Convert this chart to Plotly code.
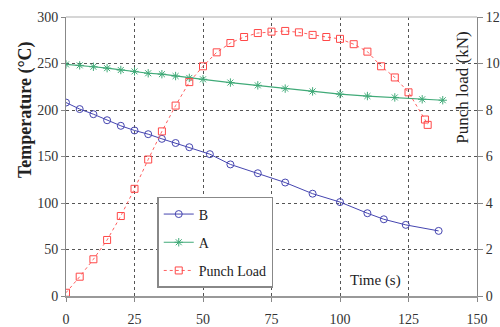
import plotly.graph_objects as go

time_b = [0, 5, 10, 15, 20, 25, 30, 35, 40, 45, 52.5, 60, 70, 80, 90, 100, 110, 116, 124, 136]
temp_b = [208, 201, 195.5, 189, 183, 178, 174, 169, 164.5, 160, 152.5, 141.5, 132, 122, 110, 101, 89, 82.5, 76.5, 70]

time_a = [0, 5, 10, 15, 20, 25, 30, 35, 40, 45, 50, 60, 70, 80, 90, 100, 110, 120, 130, 137.5]
temp_a = [249, 248, 246.5, 245, 243, 241.5, 239.5, 238.5, 236.5, 234.5, 233, 229.5, 226.5, 223, 220, 217, 215, 213.5, 211.5, 210.5]

time_p = [0, 5, 10, 15, 20, 25, 30, 35, 40, 45, 50, 55, 60, 65, 70, 75, 80, 85, 90, 95, 100,
          105, 110, 115, 120, 125, 131, 132]
load_p = [0.14, 0.83, 1.58, 2.41, 3.44, 4.61, 5.87, 7.08, 8.19, 9.2, 9.88, 10.48, 10.88, 11.14,
          11.31, 11.37, 11.4, 11.34, 11.23, 11.14, 11.06, 10.83, 10.51, 9.88, 9.4, 8.76, 7.59, 7.36]

x_ticks = [0, 25, 50, 75, 100, 125, 150]
y_ticks = [0, 50, 100, 150, 200, 250, 300]
y2_ticks = [0, 2, 4, 6, 8, 10, 12]

FONT = "Liberation Serif"

fig = go.Figure()
fig.add_trace(go.Scatter(
    x=time_b, y=temp_b, name="B", mode="lines+markers", legendgroup="b",
    line=dict(color="#4545b0", width=1),
    marker=dict(symbol="circle-open", size=7, color="#4545b0", line=dict(width=1)),
))
fig.add_trace(go.Scatter(
    x=time_a, y=temp_a, name="A", mode="lines+markers", legendgroup="a",
    line=dict(color="#40aa78", width=1.2),
    marker=dict(symbol="asterisk-open", size=7, color="#40aa78", line=dict(width=1, color="#40aa78")),
))
fig.add_trace(go.Scatter(
    x=time_p, y=load_p, name="Punch Load", mode="lines+markers", yaxis="y2", legendgroup="p",
    line=dict(color="#ff6060", width=1, dash="dot"),
    marker=dict(symbol="square-open", size=7, color="#ff4848", line=dict(width=1)),
))

fig.update_layout(
    width=500, height=327,
    margin=dict(l=66, r=23, t=17, b=31),
    paper_bgcolor="white", plot_bgcolor="white",
    font=dict(family=FONT, size=14, color="#222"),
    showlegend=True,
    legend=dict(
        x=0.222, y=0.355, xanchor="left", yanchor="top",
        bgcolor="white", bordercolor="#888", borderwidth=1.5,
        font=dict(family=FONT, size=14, color="#222"),
        traceorder="grouped", tracegroupgap=7, itemwidth=30,
    ),
    xaxis=dict(
        range=[0, 150], tickvals=x_ticks, ticktext=[str(v) for v in x_ticks],
        showgrid=True, gridcolor="#555", griddash="dot", gridwidth=1,
        zeroline=False, showline=True, linecolor="#999", linewidth=2,
        ticks="outside", ticklen=4, tickcolor="#888",
        tickfont=dict(family=FONT, size=14, color="#333"),
        ticklabelstandoff=5, automargin=False,
    ),
    yaxis=dict(
        range=[0, 300], tickvals=y_ticks, ticktext=[str(v) for v in y_ticks],
        showgrid=True, gridcolor="#555", griddash="dot", gridwidth=1,
        zeroline=False, showline=True, linecolor="#888", linewidth=1,
        ticks="outside", ticklen=4, tickcolor="#888",
        tickfont=dict(family=FONT, size=14, color="#333"), automargin=False,
    ),
    yaxis2=dict(
        range=[0, 12], tickvals=y2_ticks, ticktext=[str(v) for v in y2_ticks],
        overlaying="y", side="right", showgrid=False,
        zeroline=False, showline=True, linecolor="#888", linewidth=1,
        ticks="outside", ticklen=5, tickcolor="#888",
        tickfont=dict(family=FONT, size=14, color="#333"), automargin=False,
    ),
)

fig.add_shape(type="line", xref="paper", yref="paper", x0=0, x1=1, y0=1, y1=1,
              line=dict(color="#c8c8c8", width=1.5))

fig.add_annotation(text="<b>Temperature (°C)</b>", xref="paper", yref="paper",
                   x=-0.0998, y=0.67, textangle=-90, showarrow=False,
                   xanchor="center", yanchor="middle",
                   font=dict(family=FONT, size=18, color="#222"))
fig.add_annotation(text="Punch load (kN)", xref="paper", yref="paper",
                   x=0.963, y=0.7455, textangle=-90, showarrow=False,
                   xanchor="center", yanchor="middle",
                   font=dict(family=FONT, size=17, color="#222"))
fig.add_annotation(text="Time (s)", xref="x", yref="y", x=113, y=17,
                   showarrow=False, xanchor="center", yanchor="middle",
                   font=dict(family=FONT, size=15, color="#222"))

fig.write_html("out.html")
